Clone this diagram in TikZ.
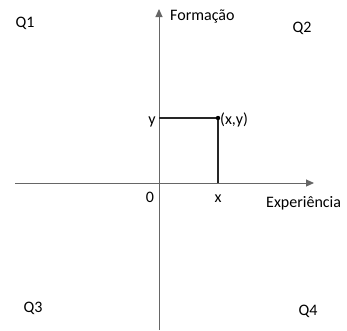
\documentclass[tikz,border=0pt]{standalone}
\usepackage{fontspec}
\setmainfont{Carlito}
\usetikzlibrary{arrows.meta}
\begin{document}
\begin{tikzpicture}[x=1pt,y=-1pt,
  lbl/.style={font=\fontsize{16}{18}\selectfont, inner sep=0pt, anchor=base, text=black},
  axis/.style={draw=black!60, line width=1pt, -{Triangle[length=8pt,width=7pt]}},
  guide/.style={draw=black!85, line width=1.3pt}]
\useasboundingbox (0,0) rectangle (347,330);
\coordinate (O) at (159,183);
\coordinate (xs) at (15,183);
\coordinate (xe) at (314,183);
\coordinate (ys) at (159,330);
\coordinate (ye) at (159,9);
\coordinate (P) at (218,118);
\coordinate (Px) at (218,183);
\coordinate (Py) at (159,118);
\draw[axis] (xs) -- (xe);
\draw[axis] (ys) -- (ye);
\draw[guide] (Py) -- (P) -- (Px);
\fill[black] (P) circle (2.2pt);
\node[lbl] (q1) at (25,27) {Q1};
\node[lbl] (q2) at (302,32) {Q2};
\node[lbl] (q3) at (33,312) {Q3};
\node[lbl] (q4) at (308,315) {Q4};
\node[lbl, anchor=base west] (form) at (170,20) {Formação};
\node[lbl, anchor=base west] (exp) at (266,207) {Experiência};
\node[lbl] (zero) at (150,202) {0};
\node[lbl] (xl) at (218,202) {x};
\node[lbl] (yl) at (152,124) {y};
\node[lbl, anchor=base west] (pl) at (220,124) {(x,y)};
\end{tikzpicture}
\end{document}
